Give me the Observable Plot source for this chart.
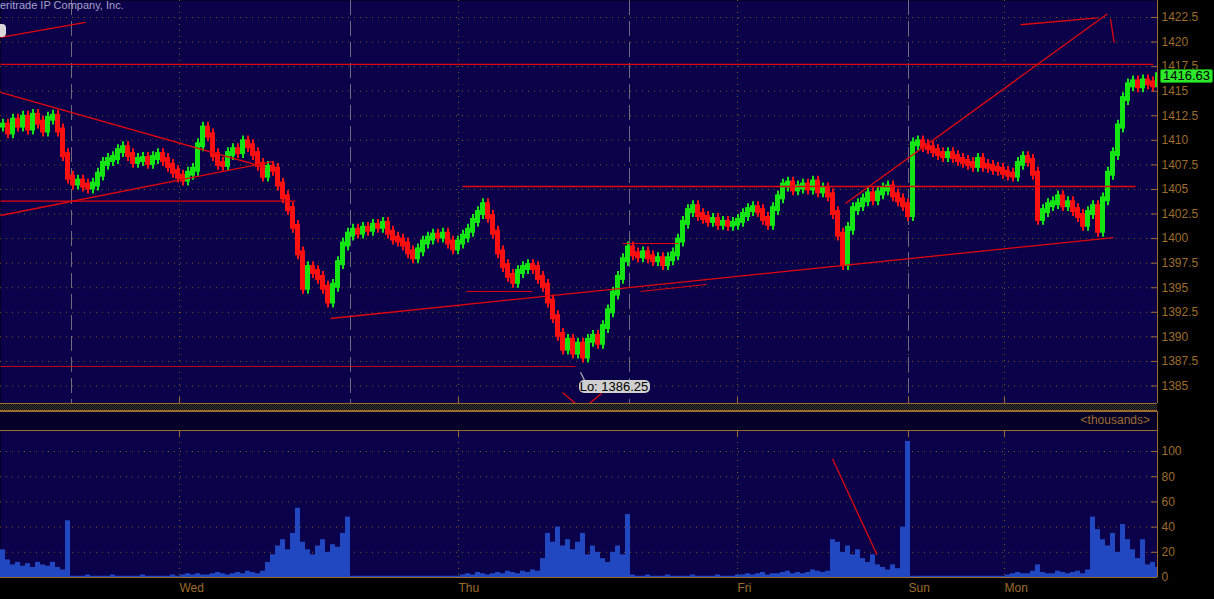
<!DOCTYPE html>
<html><head><meta charset="utf-8">
<script src="https://cdn.jsdelivr.net/npm/d3@7"></script>
<script src="https://cdn.jsdelivr.net/npm/@observablehq/plot@0.6"></script>
<style>
body{margin:0;background:#000;}
#wrap{position:relative;width:1214px;height:599px;overflow:hidden;background:#000;font-family:"Liberation Sans",Arial,sans-serif;}
.abs{position:absolute;}
</style></head><body><div id="wrap"></div>
<script>
// ---- data (one bar per ~5px time slot) ----
const closes = [
1411.5,1410.8,1412,1411.5,1412.3,1411.2,1412.5,1411.8,1411.0,1412.2,
1412.4,1411.0,1408.5,1406.2,1405.6,1405.8,1405.4,1405.2,1405.5,1406.5,
1407.6,1408.0,1408.2,1408.9,1409.2,1408.5,1407.8,1408.0,1408.1,1407.7,
1408.2,1408.5,1408.0,1407.4,1406.8,1406.3,1406.0,1406.6,1407.0,1409.5,
1411.2,1410.5,1408.5,1407.6,1407.5,1408.6,1409.0,1408.8,1409.8,1409.4,
1408.6,1407.5,1406.4,1407.2,1407.0,1405.5,1404.2,1403.0,1401.2,1398.5,
1395.0,1397.0,1396.6,1396.0,1395.0,1393.6,1395.2,1397.5,1399.4,1400.4,
1400.8,1400.6,1401.0,1400.9,1401.3,1401.2,1401.5,1400.6,1400.0,1399.8,
1399.4,1398.6,1398.1,1398.8,1399.6,1400.0,1400.3,1400.2,1400.4,1399.6,
1399.0,1399.6,1400.2,1400.8,1401.8,1402.6,1403.4,1402.2,1400.6,1398.6,
1397.2,1396.2,1395.6,1396.6,1397.0,1397.2,1397.0,1396.0,1395.2,1393.6,
1392.0,1390.2,1388.8,1389.6,1388.4,1389.2,1388.0,1389.6,1390.0,1389.4,
1391.0,1392.6,1394.4,1396.0,1397.8,1399.0,1398.4,1398.2,1398.5,1398.1,
1397.8,1397.9,1397.4,1397.9,1398.4,1399.8,1401.6,1402.8,1403.2,1402.4,
1402.1,1401.8,1401.9,1401.5,1401.6,1401.4,1401.5,1401.8,1402.4,1402.9,
1403.1,1402.8,1402.0,1401.5,1403.0,1404.2,1405.4,1405.6,1405.0,1405.2,
1405.4,1405.1,1405.7,1404.8,1405.0,1404.4,1402.6,1400.4,1397.4,1401.0,
1403.0,1403.4,1403.9,1404.5,1404.0,1404.6,1405.0,1405.2,1404.4,1403.9,
1403.4,1402.4,1409.6,1409.8,1409.4,1409.2,1408.9,1408.6,1408.4,1408.6,
1408.3,1408.0,1407.8,1407.6,1407.4,1408.0,1407.4,1407.3,1407.1,1407.0,
1406.7,1406.5,1406.4,1407.6,1408.2,1407.9,1406.6,1402.0,1402.8,1403.4,
1403.6,1404.2,1403.4,1403.6,1402.9,1402.3,1401.4,1402.6,1403.2,1400.8,
1404.0,1406.6,1408.6,1411.4,1414.2,1415.6,1415.9,1415.5,1416.0,1415.8,
1415.6,1416.63];
const volumes = [
22,14,10,12,9,11,8,12,10,9,12,8,6,
45,
1,1,1,2,1,1,1,1,2,1,1,1,1,1,2,1,1,1,1,1,2,1,
2,3,2,3,2,2,3,4,3,2,3,4,3,5,4,3,5,
12,18,25,30,22,35,55,
28,22,18,25,30,20,26,24,35,48,
1,1,1,1,1,1,1,1,1,1,1,1,1,1,1,1,1,1,1,1,1,1,
2,3,2,4,3,2,3,4,3,5,4,3,5,4,6,5,
15,35,28,40,25,30,22,28,35,18,25,20,
15,12,20,25,18,50,
2,1,1,2,1,1,1,2,1,1,1,1,2,1,1,1,1,2,1,1,1,2,
2,3,2,3,4,2,3,3,4,5,3,4,3,4,6,5,4,5,
30,28,20,25,18,22,15,12,18,10,
8,6,10,7,40,
108,
1,1,1,1,1,1,1,1,1,1,1,1,1,1,1,1,1,1,1,
2,3,4,3,3,5,10,4,3,3,5,4,3,4,5,3,6,
48,38,30,25,35,20,42,30,22,15,30,10,12,8];
const priceTicks = [1385,1387.5,1390,1392.5,1395,1397.5,1400,1402.5,1405,1407.5,1410,1412.5,1415,1417.5,1420,1422.5];
const volTicks = [0,20,40,60,80,100];
const dayLabels = ["Wed","Thu","Fri","Sun","Mon"];
const dayPos = [35.8,91.6,147.4,181.6,200.8];
const sessionPos = [14.2,70,125.8,181.6];
const trendLines = [
  {x1:0,y1:1420.47,x2:17,y2:1422.0,w:1.3},
  {x1:0,y1:1417.72,x2:230.6,y2:1417.72,w:1.3},
  {x1:0,y1:1414.87,x2:53,y2:1407.24,w:1.3},
  {x1:0,y1:1402.35,x2:54.6,y2:1407.85,w:1.3},
  {x1:0,y1:1403.81,x2:59,y2:1403.81,w:1.3},
  {x1:92.4,y1:1405.30,x2:227,y2:1405.30,w:1.3},
  {x1:66,y1:1391.87,x2:222.6,y2:1400.11,w:1.3},
  {x1:93.2,y1:1394.62,x2:106.4,y2:1394.62,w:1},
  {x1:124.4,y1:1399.50,x2:135.6,y2:1399.50,w:1},
  {x1:128,y1:1394.62,x2:141.2,y2:1395.33,w:1},
  {x1:0,y1:1386.99,x2:115,y2:1386.99,w:0.9},
  {x1:112.4,y1:1384.34,x2:115,y2:1383.22,w:1.3},
  {x1:117.8,y1:1383.22,x2:120.2,y2:1384.24,w:1.3},
  {x1:169,y1:1403.57,x2:221.4,y2:1422.88,w:1.3},
  {x1:204,y1:1421.76,x2:219.4,y2:1422.47,w:1.3},
  {x1:222,y1:1422.37,x2:222.74,y2:1419.93,w:1.3}
];
const volLines = [{x1:166.4,y1:94.2,x2:175.3,y2:18.0}];
const lastPrice = 1416.63;
const lowPrice = 1386.25;
const lowIndex = 116;

// ---- styling ----
const NAVY = "#0b004a", GRID = "#7a5418", AXIS = "#9c6c2e", RED = "#e0060c",
      UP = "#14e614", DOWN = "#ff1010", BLUE = "#2148c0";
const xMax = 231.4;
const FONT = "'Liberation Sans', Arial, sans-serif";

const bars = closes.map((c, i) => {
  const o = i ? closes[i - 1] : c;
  return {i, o, c, lo: Math.min(o, c), hi: Math.max(o, c), up: c >= o};
});
const vbars = volumes.map((v, i) => ({i, v}));

const wrap = document.getElementById("wrap");

const price = Plot.plot({
  width: 1214, height: 403, marginTop: 0, marginBottom: 0, marginLeft: 0, marginRight: 57,
  style: {background: "#000", color: AXIS, fontSize: "12px", fontFamily: FONT},
  x: {domain: [0, xMax], axis: null},
  y: {domain: [1383.22, 1424.23], axis: "right", ticks: priceTicks, tickSize: 0, tickPadding: 4,
      tickFormat: d => String(d), label: null},
  marks: [
    Plot.frame({fill: NAVY, stroke: null}),
    Plot.ruleY(priceTicks, {stroke: GRID, strokeDasharray: "1,5"}),
    Plot.ruleX(dayPos, {stroke: GRID, strokeDasharray: "1,5"}),
    Plot.ruleX(sessionPos, {stroke: "#6c6c7c", strokeDasharray: "15,6"}),
    Plot.ruleX(bars, {x: d => d.i + 0.5, y1: d => d.lo - 0.65, y2: d => d.hi + 0.65,
                      stroke: d => d.up ? UP : DOWN, strokeWidth: 2, clip: true}),
    Plot.rect(bars, {x1: "i", x2: d => d.i + 1, y1: d => d.lo - 0.25, y2: d => d.hi + 0.25,
                     fill: d => d.up ? UP : DOWN, clip: true}),
    Plot.link(trendLines, {x1: "x1", y1: "y1", x2: "x2", y2: "y2", stroke: RED, strokeWidth: d => d.w, clip: true}),
    Plot.ruleY(priceTicks, {x1: xMax - 1.2, x2: xMax, stroke: AXIS}),
    Plot.ruleX(dayPos, {y1: 1383.22, y2: 1383.22 + 0.6, stroke: AXIS}),
    Plot.ruleX([xMax], {stroke: AXIS}),
    Plot.ruleY([1383.22], {stroke: AXIS})
  ]
});
price.style.position = "absolute"; price.style.left = "0px"; price.style.top = "0px";
wrap.appendChild(price);

const vol = Plot.plot({
  width: 1214, height: 169, marginTop: 0, marginBottom: 22, marginLeft: 0, marginRight: 57,
  style: {background: "#000", color: AXIS, fontSize: "12px", fontFamily: FONT},
  x: {domain: [0, xMax], axis: null},
  y: {domain: [0, 116.7], axis: "right", ticks: volTicks, tickSize: 0, tickPadding: 4, label: null},
  marks: [
    Plot.frame({fill: NAVY, stroke: null}),
    Plot.ruleY(volTicks.filter(v => v > 0), {stroke: GRID, strokeDasharray: "1,5"}),
    Plot.ruleX(dayPos, {stroke: GRID, strokeDasharray: "1,5"}),
    Plot.rect(vbars, {x1: "i", x2: d => d.i + 1, y1: 0, y2: "v", fill: BLUE, clip: true}),
    Plot.link(volLines, {x1: "x1", y1: "y1", x2: "x2", y2: "y2", stroke: RED, strokeWidth: 1.3}),
    Plot.ruleY(volTicks, {x1: xMax - 1.2, x2: xMax, stroke: AXIS}),
    Plot.ruleX(dayPos, {y1: 116.7, y2: 116.7 - 5.5, stroke: AXIS}),
    Plot.ruleX([xMax], {stroke: AXIS}),
    Plot.ruleY([0, 116.7], {stroke: AXIS}),
    Plot.text(dayPos, {x: d => d, text: (d, i) => dayLabels[i], frameAnchor: "bottom", dy: 14,
                       textAnchor: "start", fill: AXIS, fontSize: 12})
  ]
});
vol.style.position = "absolute"; vol.style.left = "0px"; vol.style.top = "430px";
wrap.appendChild(vol);

// ---- html overlays ----
function add(html) { wrap.insertAdjacentHTML("beforeend", html); }
add(`<div class="abs" style="left:0;top:403px;width:1157px;height:8px;background:repeating-conic-gradient(#3a3a3a 0 25%, #0a0a0a 0 50%) 0 0/2px 2px;border-top:1px solid ${AXIS};border-bottom:1px solid ${AXIS};box-sizing:border-box;"></div>`);
add(`<div class="abs" style="left:0;top:411px;width:1158px;height:20px;background:#050028;border-top:1px solid ${AXIS};border-bottom:1px solid ${AXIS};border-right:1px solid ${AXIS};box-sizing:border-box;"></div>`);
add(`<div class="abs" style="right:64px;top:413px;color:${AXIS};font:12px ${FONT};">&lt;thousands&gt;</div>`);
add(`<div class="abs" style="left:0;top:-1px;color:#a4a4c4;font:11px ${FONT};white-space:nowrap;">eritrade IP Company, Inc.</div>`);
add(`<div class="abs" style="left:-12px;top:24px;width:18px;height:13px;background:#d8d8d8;border-radius:4px;"></div>`);
const yP = price.scale("y"), xP = price.scale("x");
const yl = yP.apply(lastPrice);
add(`<div class="abs" style="left:1160px;top:${yl - 6}px;width:53px;height:14px;background:#2ee82e;border:1px solid #109010;border-radius:2px;box-sizing:border-box;color:#000;font:13px ${FONT};line-height:12px;text-align:center;">${lastPrice.toFixed(2)}</div>`);
const lx = xP.apply(lowIndex + 0.5), ly = yP.apply(lowPrice);
add(`<svg class="abs" style="left:0;top:0;overflow:visible" width="1" height="1"><line x1="${lx - 2}" y1="${ly - 1}" x2="${lx + 2}" y2="${ly + 7}" stroke="#b0b0b0" stroke-width="1.2"/></svg>`);
add(`<div class="abs" style="left:${lx - 4}px;top:${ly + 7}px;width:71px;height:13px;background:#cfcfcf;border-radius:5px;color:#000;font:13px ${FONT};line-height:13px;text-align:center;">Lo: ${lowPrice}</div>`);
</script></body></html>
